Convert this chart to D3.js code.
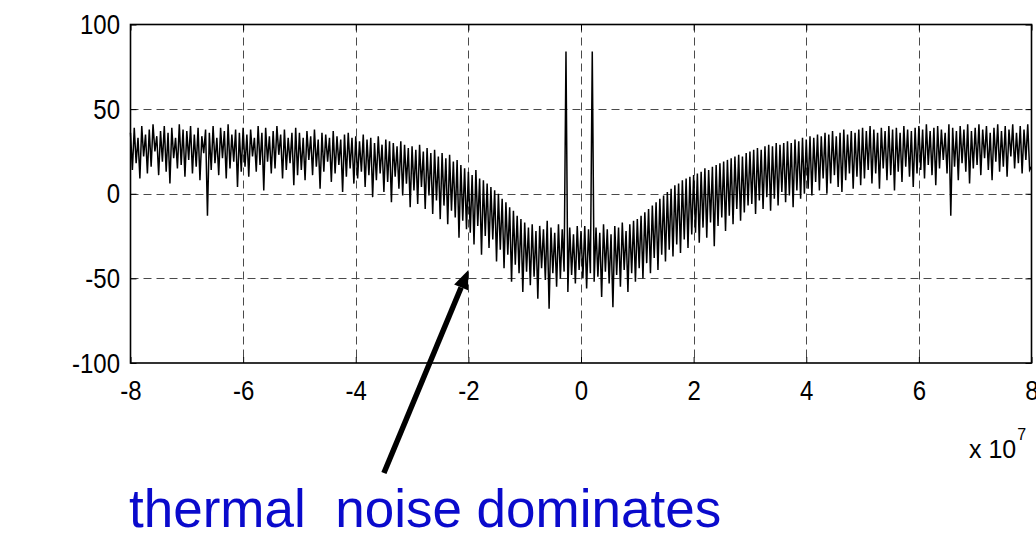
<!DOCTYPE html>
<html>
<head>
<meta charset="utf-8">
<script src="https://cdn.jsdelivr.net/npm/d3@7/dist/d3.min.js"></script>
<style>
  html, body { margin: 0; padding: 0; background: #fff; }
  svg { display: block; }
  text { font-family: "Liberation Sans", Arial, Helvetica, sans-serif; }
</style>
</head>
<body>
<svg id="chart" width="1036" height="533"></svg>
<script>
// Spectrum magnitude (dB) sampled every 1/30 of a unit from -8 to 8 (x 10^7 Hz)
const freqStart = -8;
const freqStep = 1 / 30;
const magnitude = [
  36,14,39,18,33,9,40,22,35,12,38,16,41,25,34,11,37,19,40,13,36,6,39,21,33,15,41,17,38,10,
  37,20,40,12,35,16,39,8,34,24,38,-13,36,14,40,18,33,11,39,21,37,9,41,15,35,19,38,4,36,13,
  39,16,35,10,38,22,33,13,40,17,36,2,39,19,34,12,37,15,40,23,35,9,38,14,33,18,36,5,39,11,
  36,14,33,8,37,20,34,11,38,16,32,3,36,13,35,19,33,7,37,12,34,17,32,1,35,10,36,15,33,6,
  34,9,31,13,35,4,32,11,33,-2,30,8,34,12,29,1,32,7,31,-5,30,10,28,3,31,-1,29,6,27,-8,
  28,2,26,-6,29,4,25,-9,27,-1,24,-12,26,-4,22,-15,24,-7,21,-18,23,-10,19,-14,20,-26,17,-16,15,-21,
  13,-23,11,-30,14,-19,9,-36,8,-25,6,-32,4,-27,2,-40,0,-33,-3,-44,-5,-36,-8,-52,-10,-42,-13,-47,-15,-58,
  -17,-46,-20,-54,-18,-49,-22,-62,-19,-44,-21,-51,-16,-68,-20,-47,-23,-55,-18,-50,-21,-46,84,-58,-20,-48,-24,-53,-19,-45,
  -22,-50,-19,-56,-21,-47,84,-52,-20,-49,-23,-61,-18,-46,-21,-53,-24,-67,-19,-48,-20,-55,-17,-45,-22,-58,-18,-47,-16,-52,
  -15,-44,-13,-50,-11,-41,-9,-47,-7,-38,-5,-45,-3,-36,-1,-40,1,-33,3,-37,5,-30,6,-35,8,-27,9,-32,10,-24,
  11,-23,12,-29,13,-20,15,-26,14,-17,16,-31,17,-19,18,-14,19,-22,20,-13,21,-18,22,-9,23,-16,22,-11,24,-7,
  25,-6,26,-12,27,-4,26,-9,28,-2,29,-10,28,-3,30,-7,29,1,30,-5,31,-1,30,-8,32,2,31,-3,33,0,
  32,3,34,-1,33,7,35,2,34,9,36,0,35,6,37,11,34,4,36,1,38,8,35,12,37,3,36,10,38,5,
  39,9,37,14,40,6,38,12,36,3,39,15,37,8,40,11,38,2,39,13,36,7,40,16,38,10,37,4,39,12,
  40,14,38,9,41,17,37,11,39,5,40,15,38,20,36,12,41,-13,39,16,37,8,40,18,38,13,41,6,37,15,
  39,17,41,11,38,21,40,14,36,8,39,19,41,13,37,16,40,10,38,22,41,15,36,18,40,12,38,20,41,14,
  16
];

const xDomain = [-8, 8];
const yDomain = [-100, 100];
const xTicks = [-8, -6, -4, -2, 0, 2, 4, 6, 8];
const yTicks = [-100, -50, 0, 50, 100];
const xExponentLabel = "x 10";
const xExponent = "7";
const noteText = "thermal  noise dominates";
const noteTip = [-2, -45];        // where the arrow points, in data units
const noteTail = [-3.5, -165];    // arrow tail, in data units

(function draw() {
  const svg = d3.select("#chart");
  const pLeft = 130.5, pRight = 1031.5, pTop = 24.5, pBottom = 363;

  const x = d3.scaleLinear().domain(xDomain).range([pLeft, pRight]);
  const y = d3.scaleLinear().domain(yDomain).range([pBottom, pTop]);

  const points = magnitude.map((v, i) => [freqStart + i * freqStep, v]);

  // dashed grid
  const grid = svg.append("g").attr("stroke", "#4a4a4a").attr("stroke-width", 1)
    .attr("stroke-dasharray", "8,5").attr("fill", "none");
  grid.selectAll("line.vx").data(xTicks.filter(t => t > xDomain[0] && t < xDomain[1]))
    .join("line").attr("class", "vx")
    .attr("x1", d => Math.round(x(d)) + 0.5).attr("x2", d => Math.round(x(d)) + 0.5)
    .attr("y1", pTop).attr("y2", pBottom);
  grid.selectAll("line.hy").data(yTicks.filter(t => t > yDomain[0] && t < yDomain[1]))
    .join("line").attr("class", "hy")
    .attr("y1", d => Math.round(y(d)) + 0.5).attr("y2", d => Math.round(y(d)) + 0.5)
    .attr("x1", pLeft).attr("x2", pRight);

  // spectrum trace
  svg.append("path")
    .datum(points)
    .attr("fill", "none")
    .attr("stroke", "#000")
    .attr("stroke-width", 1.5)
    .attr("d", d3.line().x(d => x(d[0])).y(d => y(d[1])));

  // axes with inward ticks
  const fmt = d => String(d);
  const sy = 1.18;

  const gx = svg.append("g").attr("transform", `translate(0,${pBottom})`)
    .call(d3.axisBottom(x).tickValues(xTicks).tickFormat(fmt).tickSize(-6).tickPadding(14.4));
  const gy = svg.append("g").attr("transform", `translate(${pLeft},0)`)
    .call(d3.axisLeft(y).tickValues(yTicks).tickFormat(fmt).tickSize(-6).tickPadding(10.5));
  svg.append("g").attr("transform", `translate(0,${pTop})`)
    .call(d3.axisTop(x).tickValues(xTicks).tickFormat("").tickSize(-6));
  svg.append("g").attr("transform", `translate(${pRight},0)`)
    .call(d3.axisRight(y).tickValues(yTicks).tickFormat("").tickSize(-6));

  svg.selectAll(".domain").remove();
  svg.selectAll(".tick line").attr("stroke", "#000");
  [gx, gy].forEach(g => g.selectAll("text")
    .attr("fill", "#000")
    .attr("font-size", 24)
    .attr("font-family", "Liberation Sans, Arial, sans-serif")
    .attr("transform", `scale(1,${sy})`));

  // frame
  svg.append("rect")
    .attr("x", pLeft).attr("y", pTop)
    .attr("width", pRight - pLeft).attr("height", pBottom - pTop)
    .attr("fill", "none").attr("stroke", "#000").attr("stroke-width", 1.6);

  // exponent label
  const ex = svg.append("text").attr("x", 969).attr("y", 458)
    .attr("font-size", 25).attr("fill", "#000");
  ex.append("tspan").text(xExponentLabel);
  ex.append("tspan").attr("font-size", 16).attr("dy", -18).attr("dx", 1).text(xExponent);

  // annotation arrow
  const tx = x(noteTip[0]), ty = y(noteTip[1]);
  const sx0 = x(noteTail[0]), sy0 = y(noteTail[1]);
  const ang = Math.atan2(ty - sy0, tx - sx0);
  const headLen = 19, headHalf = 7.5;
  const bx = tx - headLen * Math.cos(ang), by = ty - headLen * Math.sin(ang);
  svg.append("line")
    .attr("x1", sx0).attr("y1", sy0).attr("x2", bx).attr("y2", by)
    .attr("stroke", "#000").attr("stroke-width", 5.5);
  svg.append("path")
    .attr("d", d3.line()([
      [tx, ty],
      [bx + headHalf * Math.sin(ang), by - headHalf * Math.cos(ang)],
      [bx - headHalf * Math.sin(ang), by + headHalf * Math.cos(ang)]
    ]) + "Z")
    .attr("fill", "#000");

  // annotation text
  svg.append("text")
    .attr("x", 129).attr("y", 527)
    .attr("font-size", 53)
    .attr("fill", "#0a0acc")
    .style("white-space", "pre")
    .text(noteText);
})();
</script>
</body>
</html>
